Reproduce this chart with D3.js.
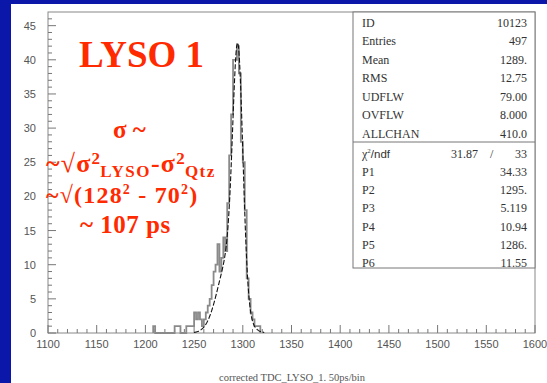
<!DOCTYPE html>
<html>
<head>
<meta charset="utf-8">
<script src="https://cdn.jsdelivr.net/npm/d3@7"></script>
<style>
  body { margin: 0; background: #0a17a8; }
  svg { display: block; }
</style>
</head>
<body>
<div id="chart"></div>
<script>
// histogram bins (left edge, 2 units wide) and their counts
var binWidth = 2;
var binStarts = [1208, 1230, 1232, 1234, 1242, 1244, 1246, 1248, 1250, 1252, 1254, 1256, 1258, 1260,
                 1262, 1264, 1266, 1268, 1270, 1272, 1274, 1276, 1278, 1280, 1282, 1284, 1286, 1288,
                 1290, 1292, 1294, 1296, 1298, 1300, 1302, 1304, 1306, 1308, 1310, 1312, 1314, 1316];
var binCounts = [1, 1, 1, 1, 1, 1, 1, 1, 3, 2, 3, 2, 1, 2,
                 3, 4, 5, 7, 9, 10, 13, 9, 11, 14, 12, 19, 26, 32,
                 40, 40, 42, 38, 28, 25, 18, 8, 5, 3, 2, 1, 1, 1];

// fit parameters (double gaussian) as printed in the stats box
var fitNames = ['P1', 'P2', 'P3', 'P4', 'P5', 'P6'];
var fitValues = [34.33, 1295, 5.119, 10.94, 1286, 11.55];
var fitLabels = ['34.33', '1295.', '5.119', '10.94', '1286.', '11.55'];
var fitRange = [1250, 1322];

var statNames = ['ID', 'Entries', 'Mean', 'RMS', 'UDFLW', 'OVFLW', 'ALLCHAN'];
var statValues = ['10123', '497', '1289.', '12.75', '79.00', '8.000', '410.0'];

var xTicks = [1100, 1150, 1200, 1250, 1300, 1350, 1400, 1450, 1500, 1550, 1600];
var yTicks = [0, 5, 10, 15, 20, 25, 30, 35, 40, 45];

var W = 547, H = 383;
var red = '#ff2a00';
var grey = '#555';

var svg = d3.select('#chart').append('svg')
    .attr('width', W)
    .attr('height', H);

// white page on the blue slide
svg.append('rect')
    .attr('x', 11).attr('y', 4)
    .attr('width', W - 11).attr('height', H - 4)
    .attr('fill', '#fff');

var x = d3.scaleLinear().domain([1100, 1600]).range([48, 535]);
var y = d3.scaleLinear().domain([0, 47]).range([333, 12]);

// frame
svg.append('rect')
    .attr('x', x(1100)).attr('y', y(47))
    .attr('width', x(1600) - x(1100)).attr('height', y(0) - y(47))
    .attr('fill', 'none')
    .attr('stroke', '#888')
    .attr('stroke-width', 1);

// y ticks (inside, every unit)
var yMinor = d3.range(0, 47, 1);
svg.append('g').selectAll('line')
    .data(yMinor)
    .enter().append('line')
        .attr('x1', x(1100))
        .attr('x2', function(d) { return x(1100) + (d % 5 == 0 ? 8 : 4); })
        .attr('y1', function(d) { return y(d); })
        .attr('y2', function(d) { return y(d); })
        .attr('stroke', '#777');

svg.append('g').selectAll('text')
    .data(yTicks)
    .enter().append('text')
        .attr('x', 36)
        .attr('y', function(d) { return y(d) + 4; })
        .attr('text-anchor', 'end')
        .attr('font-family', 'Liberation Sans, Arial, sans-serif')
        .attr('font-size', 11)
        .attr('fill', grey)
        .text(function(d) { return d; });

// x ticks (inside, every 10)
var xMinor = d3.range(1100, 1601, 10);
svg.append('g').selectAll('line')
    .data(xMinor)
    .enter().append('line')
        .attr('x1', function(d) { return x(d); })
        .attr('x2', function(d) { return x(d); })
        .attr('y1', y(0))
        .attr('y2', function(d) { return y(0) - (d % 50 == 0 ? 8 : 4); })
        .attr('stroke', '#777');

svg.append('g').selectAll('text')
    .data(xTicks)
    .enter().append('text')
        .attr('x', function(d) { return x(d); })
        .attr('y', 348)
        .attr('text-anchor', 'middle')
        .attr('font-family', 'Liberation Sans, Arial, sans-serif')
        .attr('font-size', 11)
        .attr('fill', grey)
        .text(function(d) { return d; });

svg.append('text')
    .attr('x', 292)
    .attr('y', 381)
    .attr('text-anchor', 'middle')
    .attr('font-family', 'Liberation Serif, serif')
    .attr('font-size', 10.5)
    .attr('fill', grey)
    .text('corrected TDC_LYSO_1. 50ps/bin');

// histogram as a step outline
var hist = binStarts.map(function(s, i) { return {x0: s, x1: s + binWidth, n: binCounts[i]}; });
var pts = [];
hist.forEach(function(b, i) {
    var prev = hist[i - 1];
    if(!prev || prev.x1 != b.x0) {
        pts.push([b.x0, 0]);
    }
    pts.push([b.x0, b.n]);
    pts.push([b.x1, b.n]);
    var next = hist[i + 1];
    if(!next || next.x0 != b.x1) {
        pts.push([b.x1, 0]);
    }
});
svg.append('path')
    .datum(pts)
    .attr('fill', 'none')
    .attr('stroke', '#8a8a8a')
    .attr('stroke-width', 1.8)
    .attr('d', d3.line()
        .x(function(d) { return x(d[0]); })
        .y(function(d) { return y(d[1]); }));

// fit curve from the parameters
function fitFn(v) {
    var p = fitValues;
    return p[0] * Math.exp(-0.5 * Math.pow((v - p[1]) / p[2], 2)) +
           p[3] * Math.exp(-0.5 * Math.pow((v - p[4]) / p[5], 2));
}
var fitPts = d3.range(fitRange[0], fitRange[1] + 0.01, 0.5).map(function(v) { return [v, fitFn(v)]; });
svg.append('path')
    .datum(fitPts)
    .attr('fill', 'none')
    .attr('stroke', '#111')
    .attr('stroke-width', 1.1)
    .attr('stroke-dasharray', '5,2')
    .attr('d', d3.line()
        .x(function(d) { return x(d[0]); })
        .y(function(d) { return y(d[1]); }));

// stats box
var boxL = 353, boxR = x(1600), boxT = y(47), boxB = 268, boxMid = 142;
svg.append('rect')
    .attr('x', boxL).attr('y', boxT)
    .attr('width', boxR - boxL).attr('height', boxB - boxT)
    .attr('fill', '#fff')
    .attr('stroke', '#777');
svg.append('line')
    .attr('x1', boxL).attr('x2', boxR)
    .attr('y1', boxMid).attr('y2', boxMid)
    .attr('stroke', '#777');

var statFont = 'Liberation Serif, Times New Roman, serif';
var statG = svg.append('g')
    .attr('font-family', statFont)
    .attr('font-size', 12)
    .attr('fill', '#333');

statNames.forEach(function(name, i) {
    var yy = 27 + i * 18.43;
    statG.append('text').attr('x', 362).attr('y', yy).text(name);
    statG.append('text').attr('x', 527).attr('y', yy).attr('text-anchor', 'end').text(statValues[i]);
});

var chiY = 157.5;
var chi = statG.append('text').attr('x', 362).attr('y', chiY);
chi.append('tspan').text('\u03c7');
chi.append('tspan').attr('dy', -5).attr('font-size', 7).text('2');
chi.append('tspan').attr('dy', 5).attr('font-family', 'Liberation Sans, sans-serif').attr('font-size', 11.5).text('/ndf');
statG.append('text').attr('x', 478).attr('y', chiY).attr('text-anchor', 'end').text('31.87');
statG.append('text').attr('x', 490).attr('y', chiY).text('/');
statG.append('text').attr('x', 527).attr('y', chiY).attr('text-anchor', 'end').text('33');

fitNames.forEach(function(name, i) {
    var yy = chiY + (i + 1) * 18.33;
    statG.append('text').attr('x', 362).attr('y', yy).text(name);
    statG.append('text').attr('x', 527).attr('y', yy).attr('text-anchor', 'end').text(fitLabels[i]);
});

// red annotation
var ann = svg.append('g')
    .attr('font-family', 'Liberation Serif, Times New Roman, serif')
    .attr('font-weight', 'bold')
    .attr('fill', red);

ann.append('text').attr('x', 79).attr('y', 67).attr('font-size', 37).text('LYSO 1');
ann.append('text').attr('x', 113).attr('y', 138).attr('font-size', 25).text('\u03c3 ~');

// sqrt(sigma^2 LYSO - sigma^2 Qtz)
var l2 = ann.append('text').attr('x', 46).attr('y', 172).attr('font-size', 26).attr('letter-spacing', 1.2);
l2.append('tspan').text('~\u221a\u03c3');
l2.append('tspan').attr('dy', -8).attr('font-size', 17).text('2');
l2.append('tspan').attr('dx', -1).attr('dy', 13).attr('font-size', 17).attr('letter-spacing', 1.5).text('LYSO');
l2.append('tspan').attr('dy', -5).text('-\u03c3');
l2.append('tspan').attr('dy', -8).attr('font-size', 17).text('2');
l2.append('tspan').attr('dx', -1).attr('dy', 13).attr('font-size', 17).attr('letter-spacing', 1.5).text('Qtz');

var l3 = ann.append('text').attr('x', 46).attr('y', 203).attr('font-size', 24).attr('letter-spacing', 1.2);
l3.append('tspan').text('~\u221a(128');
l3.append('tspan').attr('dy', -9).attr('font-size', 14).text('2');
l3.append('tspan').attr('dy', 9).text(' - 70');
l3.append('tspan').attr('dy', -9).attr('font-size', 14).text('2');
l3.append('tspan').attr('dy', 9).text(')');

ann.append('text').attr('x', 80).attr('y', 233).attr('font-size', 25).attr('letter-spacing', 0.5).text('~ 107 ps');
</script>
</body>
</html>
